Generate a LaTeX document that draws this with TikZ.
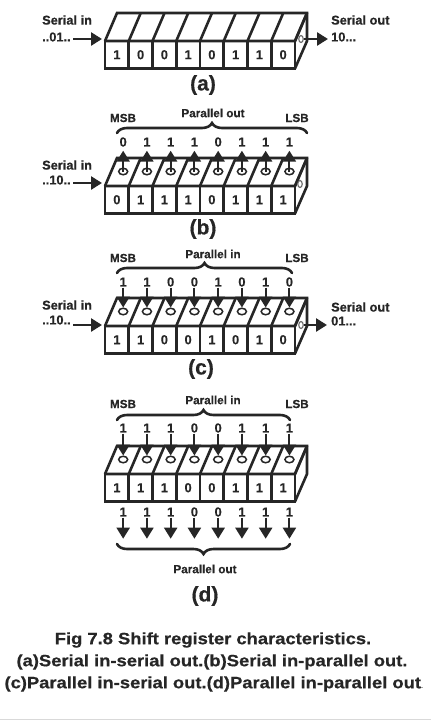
\documentclass[tikz,border=0pt]{standalone}
\usepackage{fontspec}
\setmainfont{Liberation Sans}[BoldFeatures={FakeBold=0.4}]
\newfontfamily\capfont{Liberation Sans Bold}[FakeStretch=1.12,FakeBold=0.5]
\usetikzlibrary{arrows.meta,decorations.pathreplacing,calc,shapes.geometric}
\definecolor{ink}{RGB}{38,38,38}
\tikzset{
  cell/.style={draw=ink,line width=2.6pt,minimum width=23.75pt,minimum height=27.5pt,inner sep=0pt,outer sep=0pt,font=\bfseries\fontsize{13}{13}\selectfont,text=ink},
  face/.style={draw=ink,line width=2.6pt,line join=miter},
  hole/.style={draw=ink,line width=1.5pt,ellipse,fill=white,minimum width=9pt,minimum height=6.5pt,inner sep=0pt},
  sidehole/.style={draw=ink!70,line width=1.1pt,ellipse,fill=white,minimum width=4.5pt,minimum height=7pt,inner sep=0pt},
  digit/.style={font=\bfseries\fontsize{13}{13}\selectfont,text=ink,inner sep=0pt,minimum height=11pt,minimum width=8pt},
  lab/.style={font=\bfseries\fontsize{11.7}{11.7}\selectfont,text=ink,inner sep=0pt},
  side/.style={font=\bfseries\fontsize{12.8}{12.8}\selectfont,text=ink,inner sep=0pt,anchor=west},
  tag/.style={font=\bfseries\fontsize{21}{21}\selectfont,text=ink,inner sep=0pt},
  captext/.style={font=\capfont\fontsize{16.4}{16.4}\selectfont,text=ink,inner sep=0pt},
  bigarrow/.style={draw=ink,line width=2.6pt,-{Triangle[width=13pt,length=11pt]}},
  smallarrow/.style={draw=ink,line width=2.1pt,-{Triangle[width=13pt,length=11pt]}},
  bracket/.style={draw=ink,line width=2.6pt,line cap=round,decorate,decoration={brace,amplitude=10pt,aspect=.5}},
}
\newcommand{\regbody}[3]{%
  \draw[face] (105,#2+28) -- (117,#2) -- (307,#2) -- (307,#2+28) -- (295,#2+55.5);
  \foreach \b [count=\i] in {#3} {
    \pgfmathsetmacro{\cx}{105+(\i-.5)*23.75}
    \node[cell] (#1c\i) at (\cx,#2+41.75) {\b};
    \pgfmathsetmacro{\tx}{105+\i*23.75}
    \draw[face] (\tx,#2+28) -- (\tx+12,#2);
  }
  \draw[face] (105,#2+28) -- (295,#2+28) -- (307,#2);
}
\newcommand{\holes}[2]{%
  \foreach \i in {1,...,8} {
    \pgfmathsetmacro{\hx}{105+(\i-.5)*23.75+6.3}
    \node[hole] (#1h\i) at (\hx,#2+13.5) {};
  }
}
\newcommand{\digits}[4]{% prefix, name, y, bits
  \foreach \b [count=\i] in {#4} {
    \pgfmathsetmacro{\hx}{105+(\i-.5)*23.75+6.3}
    \node[digit] (#1#2\i) at (\hx,#3) {\b};
  }
}
\begin{document}
\begin{tikzpicture}[x=1pt,y=-1pt]
\useasboundingbox (0,0) rectangle (431,720);
\fill[white] (0,0) rectangle (431,720);

% (a)
\regbody{a}{13}{1,0,0,1,0,1,1,0}
\node[sidehole] (aout) at (301,39) {};
\node[side] (ain) at (42,20) {Serial in};
\node[side] (aseq) at (42,37) {..01..};
\coordinate (aentry) at (73,39);
\coordinate (ahit) at (102,39);
\draw[bigarrow] (aentry) -- (ahit);
\coordinate (aexit) at (328,39);
\draw[bigarrow] (aout) -- (aexit);
\node[side] (aso) at (331,20) {Serial out};
\node[side] (asq) at (331,37) {10...};
\node[tag] (atag) at (203,85) {(a)};

% (b)
\regbody{b}{158}{0,1,1,1,0,1,1,1}
\holes{b}{158}
\node[sidehole] (bout) at (300,184) {};
\digits{b}{d}{142}{0,1,1,1,0,1,1,1}
\foreach \i in {1,...,8} \draw[smallarrow,shorten >=3pt] (bh\i.center) -- (bd\i.south);
\node[side] (bin) at (42,165) {Serial in};
\node[side] (bseq) at (42,180) {..10..};
\coordinate (bentry) at (73,183);
\coordinate (bhit) at (102,183);
\draw[bigarrow] (bentry) -- (bhit);
\coordinate (bbl) at (117,133);
\coordinate (bbr) at (307,133);
\draw[bracket] (bbl) -- (bbr);
\node[lab] (bpo) at (213,113) {Parallel out};
\node[lab] (bm) at (123,118) {MSB};
\node[lab] (bl) at (297,118) {LSB};
\node[tag] (btag) at (203,229) {(b)};

% (c)
\regbody{c}{298}{1,1,0,0,1,0,1,0}
\holes{c}{298}
\node[sidehole] (cout) at (301,325) {};
\digits{c}{d}{282}{1,1,0,0,1,0,1,0}
\foreach \i in {1,...,8} \draw[smallarrow] (cd\i.south) -- (ch\i.north);
\node[side] (cin) at (42,305) {Serial in};
\node[side] (cseq) at (42,320) {..10..};
\coordinate (centry) at (73,325);
\coordinate (chit) at (102,325);
\draw[bigarrow] (centry) -- (chit);
\coordinate (cexit) at (327,325);
\draw[bigarrow] (cout) -- (cexit);
\node[side] (cso) at (331,307) {Serial out};
\node[side] (csq) at (331,321) {01...};
\coordinate (cbl) at (117,273);
\coordinate (cbr) at (292,273);
\draw[bracket] (cbl) -- (cbr);
\node[lab] (cpi) at (213,254) {Parallel in};
\node[lab] (cm) at (123,258) {MSB};
\node[lab] (cl) at (297,258) {LSB};
\node[tag] (ctag) at (201,369) {(c)};

% (d)
\regbody{d}{446}{1,1,1,0,0,1,1,1}
\holes{d}{446}
\digits{d}{d}{428}{1,1,1,0,0,1,1,1}
\foreach \i in {1,...,8} \draw[smallarrow] (dd\i.south) -- (dh\i.north);
\digits{d}{e}{512}{1,1,1,0,0,1,1,1}
\foreach \i in {1,...,8} {
  \coordinate (dt\i) at ($(de\i.south)+(0,21)$);
  \draw[smallarrow] (de\i.south) -- (dt\i);
}
\coordinate (dbl) at (117,420);
\coordinate (dbr) at (290,420);
\draw[bracket] (dbl) -- (dbr);
\coordinate (dcl) at (117,544);
\coordinate (dcr) at (290,544);
\draw[bracket] (dcr) -- (dcl);
\node[lab] (dpi) at (213,400) {Parallel in};
\node[lab] (dm) at (123,404) {MSB};
\node[lab] (dl) at (297,404) {LSB};
\node[lab] (dpo) at (205,569) {Parallel out};
\node[tag] (dtag) at (205,596) {(d)};

% caption
\node[captext] (c1) at (213,640) {Fig 7.8 Shift register characteristics.};
\node[captext] (c2) at (212,662) {(a)Serial in-serial out.(b)Serial in-parallel out.};
\node[captext] (c3) at (214,684) {(c)Parallel in-serial out.(d)Parallel in-parallel out{\normalfont\fontsize{9}{9}\selectfont.}};
\draw[black!15,line width=1pt] (0,719.5) -- (431,719.5);
\end{tikzpicture}
\end{document}
